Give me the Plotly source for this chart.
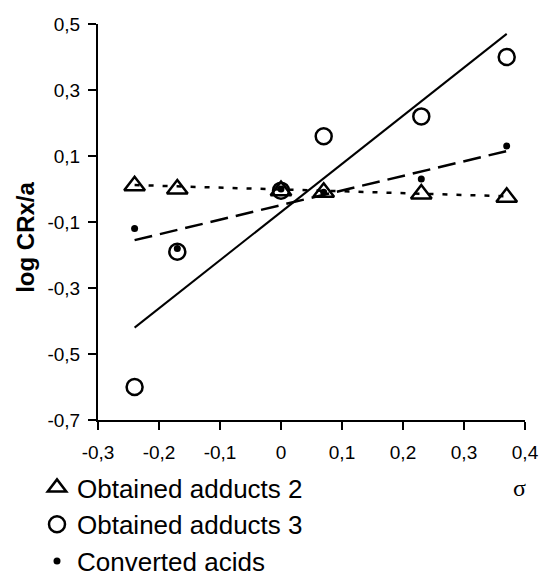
import plotly.graph_objects as go

# ---- data ----
sigma = [-0.24, -0.17, 0.0, 0.07, 0.23, 0.37]
adducts2 = [0.01, 0.0, -0.005, -0.01, -0.015, -0.025]
adducts3 = [-0.60, -0.19, -0.005, 0.16, 0.22, 0.40]
acids = [-0.12, -0.18, 0.0, -0.01, 0.03, 0.13]

# trend lines (end points)
trend_x = [-0.24, 0.37]
trend2_y = [0.012, -0.022]
trend3_y = [-0.42, 0.47]
trend_acids_y = [-0.155, 0.115]

x_tickvals = [-0.3, -0.2, -0.1, 0.0, 0.1, 0.2, 0.3, 0.4]
x_ticktext = ["-0,3", "-0,2", "-0,1", "0", "0,1", "0,2", "0,3", "0,4"]
y_tickvals = [0.5, 0.3, 0.1, -0.1, -0.3, -0.5, -0.7]
y_ticktext = ["0,5", "0,3", "0,1", "-0,1", "-0,3", "-0,5", "-0,7"]

names = ["Obtained adducts 2", "Obtained adducts 3", "Converted acids"]

FONT = "Arial, Liberation Sans, sans-serif"

W, H = 541, 576

fig = go.Figure()

# trend lines
fig.add_trace(go.Scatter(x=trend_x, y=trend3_y, mode="lines",
                         line=dict(color="black", width=2), showlegend=False, hoverinfo="skip"))
fig.add_trace(go.Scatter(x=trend_x, y=trend_acids_y, mode="lines",
                         line=dict(color="black", width=2.5, dash="18px,8px"),
                         showlegend=False, hoverinfo="skip"))
fig.add_trace(go.Scatter(x=trend_x, y=trend2_y, mode="lines",
                         line=dict(color="black", width=2.5, dash="5px,9px"),
                         showlegend=False, hoverinfo="skip"))

# markers
fig.add_trace(go.Scatter(x=sigma, y=adducts2, mode="markers", name=names[0], legendgroup="a",
                         marker=dict(symbol="triangle-up-open", size=18, color="black",
                                     line=dict(width=2.5, color="black"))))
fig.add_trace(go.Scatter(x=sigma, y=adducts3, mode="markers", name=names[1], legendgroup="b",
                         marker=dict(symbol="circle-open", size=16, color="black",
                                     line=dict(width=2.5, color="black"))))
fig.add_trace(go.Scatter(x=sigma, y=acids, mode="markers", name=names[2], legendgroup="c",
                         marker=dict(symbol="circle", size=7, color="black")))

axis_common = dict(showgrid=False, zeroline=False, showline=True, linecolor="black",
                   linewidth=2, ticks="outside", ticklen=8, tickwidth=2, tickcolor="black",
                   automargin=False, ticklabeloverflow="allow",
                   tickfont=dict(family=FONT, size=19, color="black"))

fig.update_xaxes(range=[-0.3, 0.4], tickmode="array", tickvals=x_tickvals,
                 ticktext=x_ticktext, ticklabelstandoff=6, **axis_common)
fig.update_yaxes(range=[-0.7, 0.5], tickmode="array", tickvals=y_tickvals,
                 ticktext=y_ticktext, ticklabelstandoff=4, **axis_common)

fig.update_layout(
    width=W, height=H,
    margin=dict(l=98, r=16, t=24, b=156, autoexpand=False),
    paper_bgcolor="white", plot_bgcolor="white",
    font=dict(family=FONT, color="black"),
    showlegend=True,
    legend=dict(xref="container", yref="container", x=37 / W, y=1 - 464 / H,
                xanchor="left", yanchor="top", traceorder="grouped",
                font=dict(family=FONT, size=26, color="black"),
                bgcolor="rgba(0,0,0,0)", itemwidth=30, tracegroupgap=0),
    annotations=[
        dict(text="<b>log CRx/a</b>", xref="paper", yref="paper",
             x=-0.1686, y=0.46, xanchor="center", yanchor="middle", textangle=-90,
             showarrow=False, font=dict(family=FONT, size=24, color="black")),
        dict(text="σ", xref="paper", yref="paper", x=0.986, y=-0.172,
             xanchor="center", yanchor="middle", showarrow=False,
             font=dict(family="Liberation Serif, serif", size=24, color="black")),
    ],
)

fig.write_html("out.html", config={"displayModeBar": False},
               post_script="document.body.style.margin='0';document.body.style.overflow='hidden';")
